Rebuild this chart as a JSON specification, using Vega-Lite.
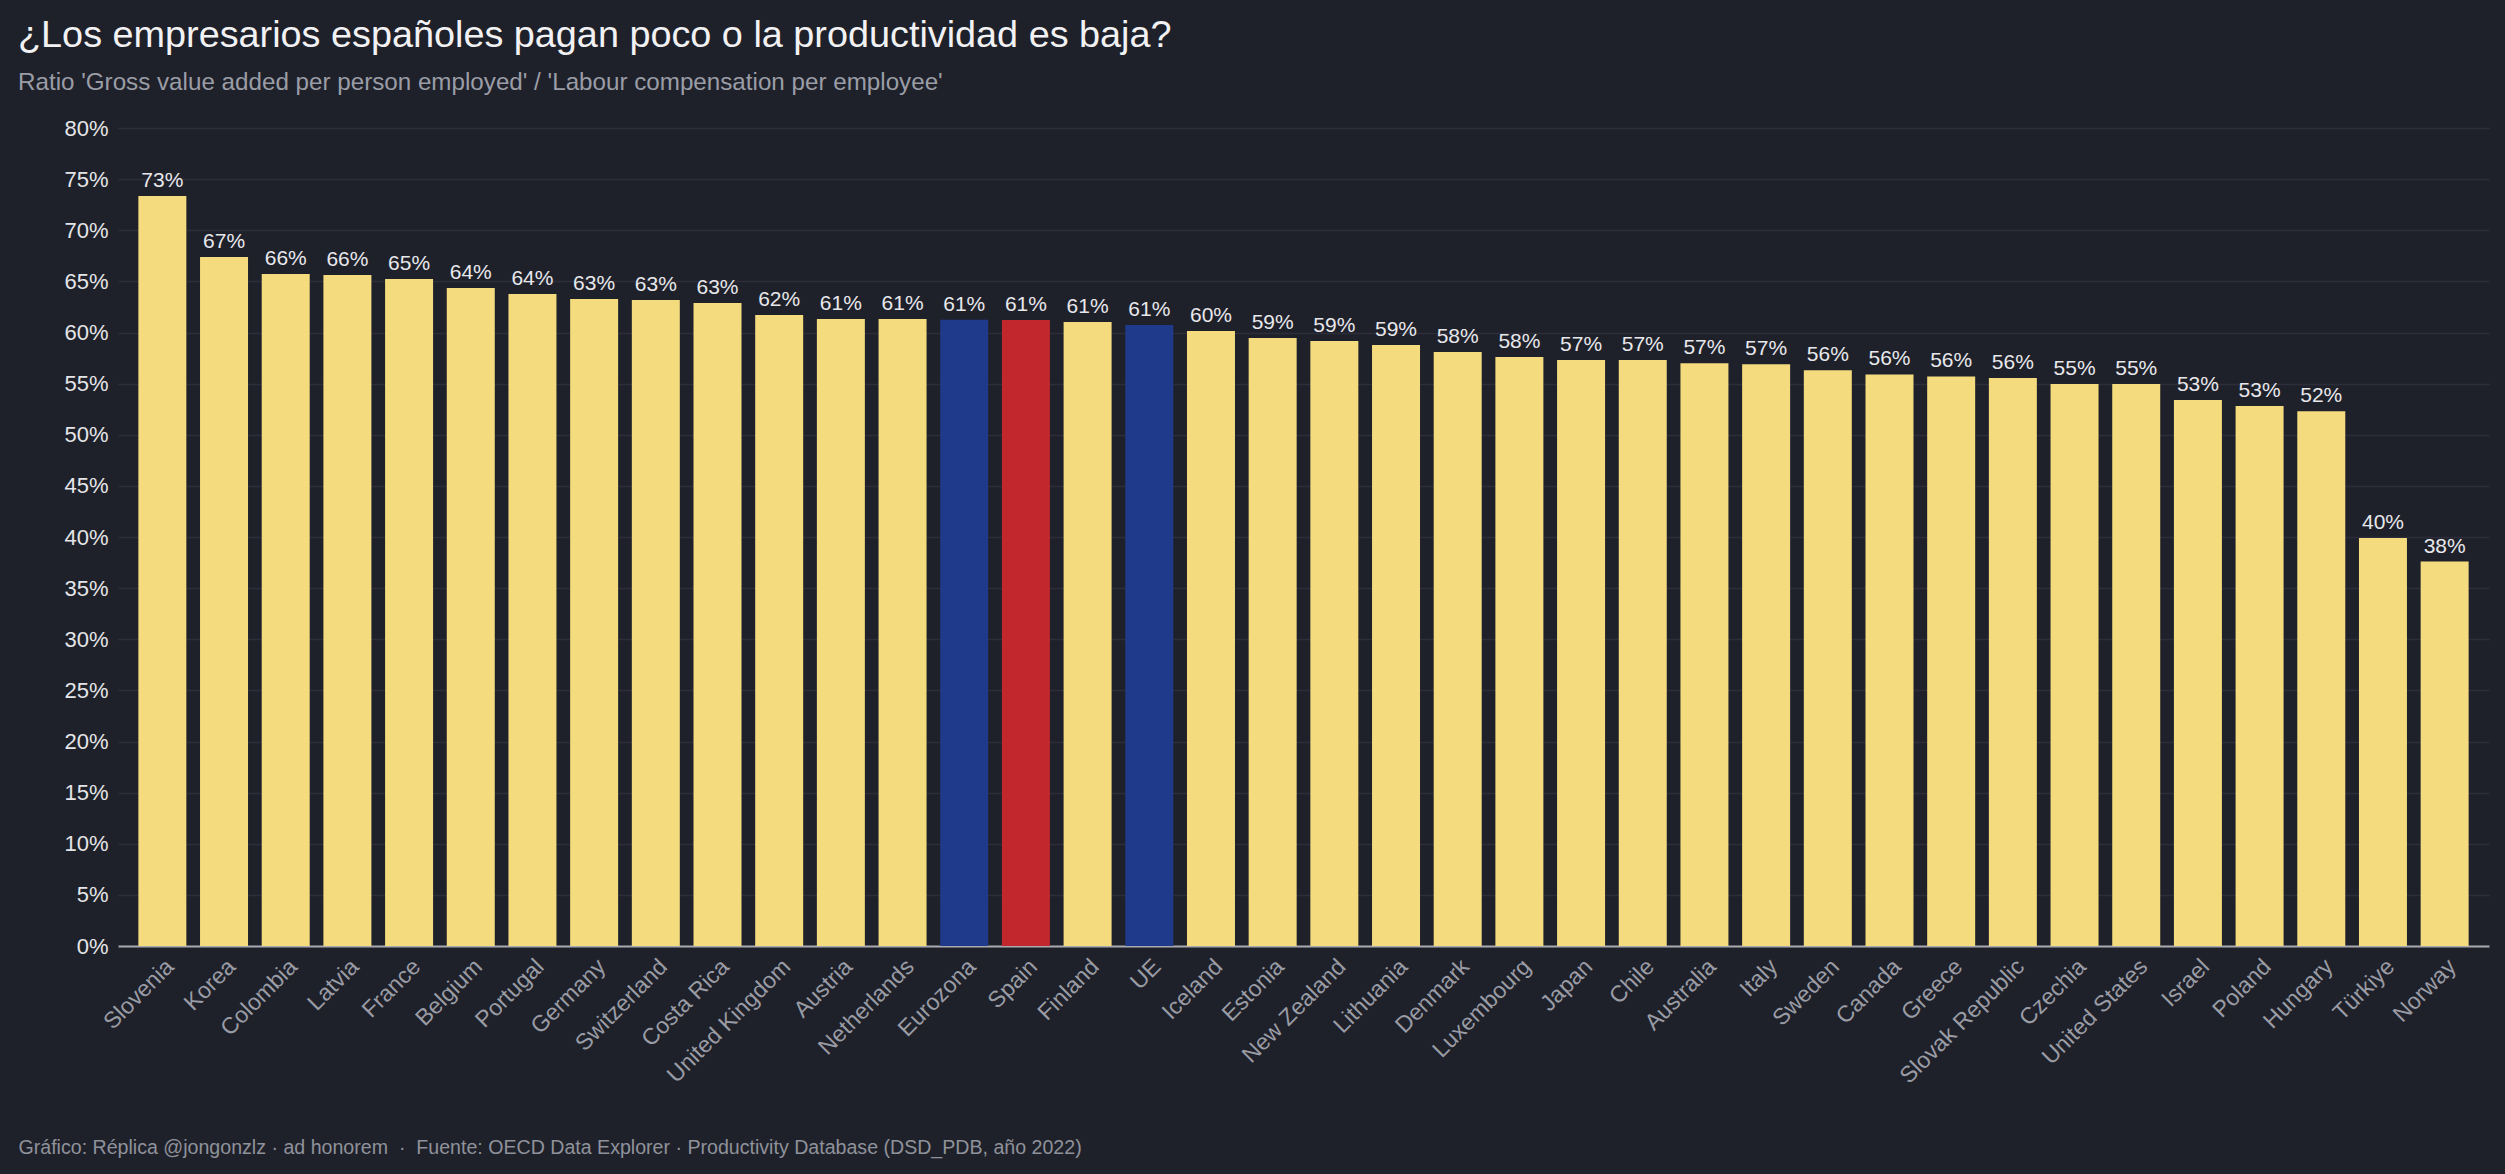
{
  "$schema": "https://vega.github.io/schema/vega-lite/v6.json",
  "autosize": {"type": "none"},
  "width": 2371,
  "height": 818,
  "padding": {"left": 118, "top": 128, "right": 16, "bottom": 228},
  "background": "#1f212a",
  "title": {
    "text": "¿Los empresarios españoles pagan poco o la productividad es baja?",
    "subtitle": "Ratio 'Gross value added per person employed' / 'Labour compensation per employee'",
    "anchor": "start",
    "frame": "group",
    "dx": -100,
    "offset": 22,
    "font": "Liberation Sans",
    "fontSize": 37.8,
    "fontWeight": "normal",
    "color": "#f2f2f4",
    "subtitleFont": "Liberation Sans",
    "subtitleFontSize": 24.2,
    "subtitleColor": "#9a9da6",
    "subtitlePadding": 16
  },
  "config": {
    "view": {"stroke": null},
    "font": "Liberation Sans"
  },
  "data": {
    "values": [
      {"pais": "Slovenia", "ratio": 0.7335, "grupo": "pais"},
      {"pais": "Korea", "ratio": 0.6738, "grupo": "pais"},
      {"pais": "Colombia", "ratio": 0.6572, "grupo": "pais"},
      {"pais": "Latvia", "ratio": 0.6562, "grupo": "pais"},
      {"pais": "France", "ratio": 0.6523, "grupo": "pais"},
      {"pais": "Belgium", "ratio": 0.6435, "grupo": "pais"},
      {"pais": "Portugal", "ratio": 0.6377, "grupo": "pais"},
      {"pais": "Germany", "ratio": 0.6328, "grupo": "pais"},
      {"pais": "Switzerland", "ratio": 0.6318, "grupo": "pais"},
      {"pais": "Costa Rica", "ratio": 0.6289, "grupo": "pais"},
      {"pais": "United Kingdom", "ratio": 0.6171, "grupo": "pais"},
      {"pais": "Austria", "ratio": 0.6132, "grupo": "pais"},
      {"pais": "Netherlands", "ratio": 0.6131, "grupo": "pais"},
      {"pais": "Eurozona", "ratio": 0.6125, "grupo": "agregado"},
      {"pais": "Spain", "ratio": 0.6122, "grupo": "espana"},
      {"pais": "Finland", "ratio": 0.6103, "grupo": "pais"},
      {"pais": "UE", "ratio": 0.6073, "grupo": "agregado"},
      {"pais": "Iceland", "ratio": 0.6015, "grupo": "pais"},
      {"pais": "Estonia", "ratio": 0.5946, "grupo": "pais"},
      {"pais": "New Zealand", "ratio": 0.5917, "grupo": "pais"},
      {"pais": "Lithuania", "ratio": 0.5878, "grupo": "pais"},
      {"pais": "Denmark", "ratio": 0.5809, "grupo": "pais"},
      {"pais": "Luxembourg", "ratio": 0.5760, "grupo": "pais"},
      {"pais": "Japan", "ratio": 0.5732, "grupo": "pais"},
      {"pais": "Chile", "ratio": 0.5731, "grupo": "pais"},
      {"pais": "Australia", "ratio": 0.5700, "grupo": "pais"},
      {"pais": "Italy", "ratio": 0.5690, "grupo": "pais"},
      {"pais": "Sweden", "ratio": 0.5630, "grupo": "pais"},
      {"pais": "Canada", "ratio": 0.5590, "grupo": "pais"},
      {"pais": "Greece", "ratio": 0.5570, "grupo": "pais"},
      {"pais": "Slovak Republic", "ratio": 0.5555, "grupo": "pais"},
      {"pais": "Czechia", "ratio": 0.5497, "grupo": "pais"},
      {"pais": "United States", "ratio": 0.5496, "grupo": "pais"},
      {"pais": "Israel", "ratio": 0.5340, "grupo": "pais"},
      {"pais": "Poland", "ratio": 0.5280, "grupo": "pais"},
      {"pais": "Hungary", "ratio": 0.5230, "grupo": "pais"},
      {"pais": "Türkiye", "ratio": 0.3990, "grupo": "pais"},
      {"pais": "Norway", "ratio": 0.3760, "grupo": "pais"}
    ]
  },
  "encoding": {
    "x": {
      "field": "pais",
      "type": "nominal",
      "sort": null,
      "scale": {"paddingInner": 0.222, "paddingOuter": 0.33},
      "axis": {
        "title": "Gráfico: Réplica @jongonzlz · ad honorem \u00a0·\u00a0 Fuente: OECD Data Explorer · Productivity Database (DSD_PDB, año 2022)",
        "titleAnchor": "start",
        "titleAlign": "left",
        "titleBaseline": "alphabetic",
        "titleX": -100,
        "titleY": 207,
        "titleFont": "Liberation Sans",
        "titleFontSize": 19.6,
        "titleFontWeight": "normal",
        "titleColor": "#8f929b",
        "labelAngle": -45,
        "labelFont": "Liberation Sans",
        "labelFontSize": 23,
        "labelColor": "#9a9ca5",
        "labelPadding": 9,
        "ticks": false,
        "domain": true,
        "domainColor": "#a8aab0",
        "domainWidth": 2,
        "grid": false
      }
    },
    "y": {
      "field": "ratio",
      "type": "quantitative",
      "scale": {"domain": [0, 0.8], "nice": false},
      "axis": {
        "title": null,
        "format": ".0%",
        "values": [0, 0.05, 0.1, 0.15, 0.2, 0.25, 0.3, 0.35, 0.4, 0.45, 0.5, 0.55, 0.6, 0.65, 0.7, 0.75, 0.8],
        "labelFont": "Liberation Sans",
        "labelFontSize": 22,
        "labelColor": "#e4e5e8",
        "labelPadding": 10,
        "ticks": false,
        "domain": false,
        "grid": true,
        "gridColor": "#2c2f3b",
        "gridWidth": 1.5
      }
    }
  },
  "layer": [
    {
      "mark": {"type": "bar"},
      "encoding": {
        "color": {
          "field": "grupo",
          "type": "nominal",
          "scale": {"domain": ["pais", "agregado", "espana"], "range": ["#f4dc7e", "#1f3a8a", "#c1272d"]},
          "legend": null
        }
      }
    },
    {
      "mark": {"type": "text", "baseline": "alphabetic", "dy": -9, "font": "Liberation Sans", "fontSize": 21, "color": "#e8e8ec"},
      "encoding": {
        "text": {"field": "ratio", "type": "quantitative", "format": ".0%"}
      }
    }
  ]
}
